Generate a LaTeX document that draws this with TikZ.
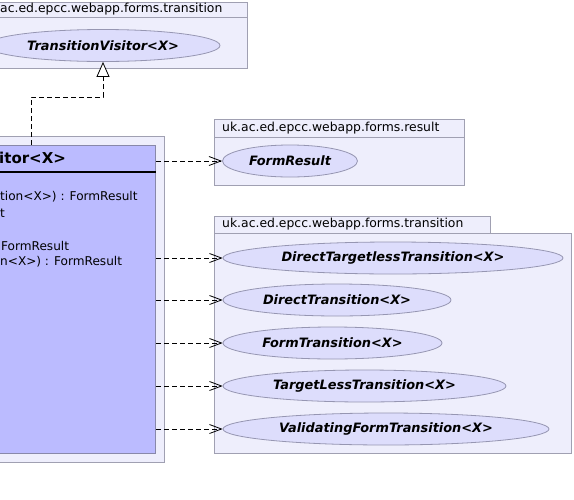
\documentclass[tikz,border=0pt]{standalone}
\usepackage{fontspec}
\setmainfont{DejaVu Sans}[BoldFont={DejaVu Sans Bold},ItalicFont={DejaVu Sans Oblique},BoldItalicFont={DejaVu Sans Bold Oblique}]
\usepackage{xcolor}
\usetikzlibrary{shapes.geometric,arrows.meta}
\definecolor{pkgfill}{RGB}{238,238,252}
\definecolor{pkgline}{RGB}{160,160,178}
\definecolor{ifcfill}{RGB}{221,221,252}
\definecolor{ifcline}{RGB}{150,150,178}
\definecolor{clsfill}{RGB}{187,187,255}
\definecolor{clsline}{RGB}{136,136,170}

\begin{document}
\begin{tikzpicture}[x=1pt,y=-1pt,
  pkg/.style={draw=pkgline,fill=pkgfill,line width=0.8pt},
  pkglabel/.style={anchor=west,inner sep=0pt,font=\fontsize{12.4}{14}\selectfont},
  iface/.style={ellipse,draw=ifcline,fill=ifcfill,line width=0.8pt,inner sep=0pt,minimum height=32pt,
    font=\fontsize{12.9}{15}\selectfont\bfseries\itshape},
  member/.style={anchor=west,inner sep=0pt,font=\fontsize{12.1}{14}\selectfont},
  uses/.style={dash pattern=on 5pt off 3pt,line width=0.8pt,-{Straight Barb[length=12pt,width=9pt]}},
  realize/.style={dash pattern=on 5pt off 3pt,line width=0.8pt,-{Triangle[open,length=15pt,width=13pt,fill=white]}}]
\clip (0,0) rectangle (574,499);
% packages
\draw[pkg] (-5,2) rectangle (247,17);
\draw[pkg] (-5,17) rectangle (247,68);
\node[pkglabel] at (0,9.5) {ac.ed.epcc.webapp.forms.transition};
\draw[pkg] (-5,136) rectangle (164,462);
\draw[pkg] (214,119) rectangle (464,137);
\draw[pkg] (214,137) rectangle (464,185);
\node[pkglabel] at (222,128) {uk.ac.ed.epcc.webapp.forms.result};
\draw[pkg] (214,216) rectangle (490,233);
\draw[pkg] (214,233) rectangle (571,453);
\node[pkglabel] at (222,224.5) {uk.ac.ed.epcc.webapp.forms.transition};
% visitor class
\node[draw=clsline,fill=clsfill,line width=0.8pt,minimum width=210pt,minimum height=308pt,anchor=north east] (visitor) at (156,145) {};
\draw[line width=2pt] (-5,172) -- (156,172);
\node[anchor=west,inner sep=0pt,font=\fontsize{15}{17}\selectfont\bfseries] at (-1,158) {itor<X>};
\node[member] at (0,197) {tion<X>) : FormResult};
\node[member] at (0,213) {t};
\node[member] at (1,246) {FormResult};
\node[member] at (0,262) {n<X>) : FormResult};
% interfaces
\node[iface,minimum width=234pt] (tv) at (103,45.5) {TransitionVisitor<X>};
\node[iface,minimum width=135pt] (fr) at (290,161) {FormResult};
\node[iface,minimum width=340pt] (dtt) at (393,258) {DirectTargetlessTransition<X>};
\node[iface,minimum width=228pt] (dt) at (337,300) {DirectTransition<X>};
\node[iface,minimum width=219pt] (ft) at (332.5,343) {FormTransition<X>};
\node[iface,minimum width=283pt] (tlt) at (364.5,386) {TargetLessTransition<X>};
\node[iface,minimum width=326pt] (vft) at (386,429) {ValidatingFormTransition<X>};
% connectors
\coordinate (knee) at (31,97);
\draw[realize] (knee |- visitor.north) |- (knee -| tv.south) -- (tv.south);
\foreach \t in {fr,dtt,dt,ft,tlt,vft}
  \draw[uses] (visitor.east |- \t.west) -- (\t.west);
\end{tikzpicture}
\end{document}
